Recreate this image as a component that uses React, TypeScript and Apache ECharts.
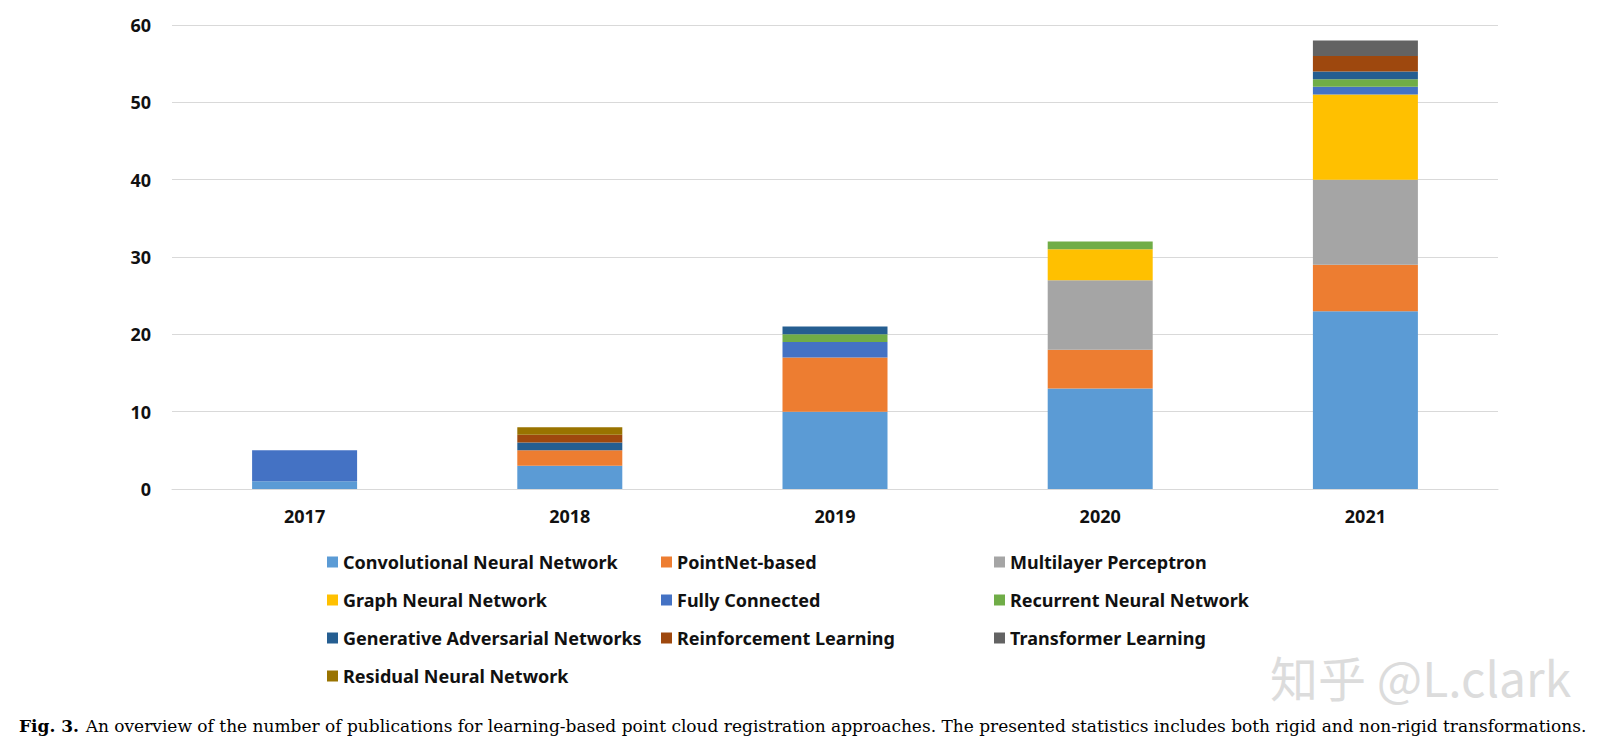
import React, { useEffect, useRef } from "react";
import * as echarts from "echarts";

const years = ["2017", "2018", "2019", "2020", "2021"];
const seriesNames = [
  "Convolutional Neural Network",
  "PointNet-based",
  "Multilayer Perceptron",
  "Graph Neural Network",
  "Fully Connected",
  "Recurrent Neural Network",
  "Generative Adversarial Networks",
  "Reinforcement Learning",
  "Transformer Learning",
  "Residual Neural Network",
];
const cnn = [1, 3, 10, 13, 23];
const pointnet = [0, 2, 7, 5, 6];
const mlp = [0, 0, 0, 9, 11];
const gnn = [0, 0, 0, 4, 11];
const fc = [4, 0, 2, 0, 1];
const rnn = [0, 0, 1, 1, 1];
const gan = [0, 1, 1, 0, 1];
const rl = [0, 1, 0, 0, 2];
const transformer = [0, 0, 0, 0, 2];
const residual = [0, 1, 0, 0, 0];
const seriesValues = [cnn, pointnet, mlp, gnn, fc, rnn, gan, rl, transformer, residual];
const colors = [
  "#5B9BD5",
  "#ED7D31",
  "#A5A5A5",
  "#FFC000",
  "#4472C4",
  "#70AD47",
  "#255E91",
  "#9E480E",
  "#636363",
  "#997300",
];
const legendCol1 = [seriesNames[0], seriesNames[3], seriesNames[6], seriesNames[9]];
const legendCol2 = [seriesNames[1], seriesNames[4], seriesNames[7]];
const legendCol3 = [seriesNames[2], seriesNames[5], seriesNames[8]];
const captionBold = "Fig. 3.";
const captionText =
  "An overview of the number of publications for learning-based point cloud registration approaches. The presented statistics includes both rigid and non-rigid transformations.";
const watermark = "知乎 @L.clark";

export default function App() {
  const ref = useRef<HTMLDivElement>(null);
  useEffect(() => {
    document.body.style.margin = "0";
    if (!ref.current) return;
    const chart = echarts.init(ref.current, null, { renderer: "svg" });
    const font = "'Noto Sans', 'Open Sans', sans-serif";
    const legendBase = {
      orient: "vertical",
      top: 548,
      itemWidth: 11,
      itemHeight: 11,
      itemGap: 20,
      icon: "rect",
      textStyle: { fontFamily: font, fontWeight: "bold", fontSize: 18, color: "#111" },
      selectedMode: false,
    };
    chart.setOption({
      animation: false,
      backgroundColor: "#ffffff",
      color: colors,
      grid: { left: 172, right: 121, top: 25, bottom: 258, containLabel: false },
      xAxis: {
        type: "category",
        data: years,
        axisLine: { show: true, lineStyle: { color: "#d9d9d9", width: 1 } },
        axisTick: { show: false },
        axisLabel: {
          margin: 18,
          fontFamily: font,
          fontWeight: "bold",
          fontSize: 18,
          color: "#111",
        },
      },
      yAxis: {
        type: "value",
        min: 0,
        max: 60,
        interval: 10,
        axisLine: { show: false },
        axisTick: { show: false },
        splitLine: { lineStyle: { color: "#d9d9d9", width: 1 } },
        axisLabel: {
          margin: 21,
          fontFamily: font,
          fontWeight: "bold",
          fontSize: 18,
          color: "#111",
        },
      },
      legend: [
        { ...legendBase, left: 322, data: legendCol1 },
        { ...legendBase, left: 656, data: legendCol2 },
        { ...legendBase, left: 989, data: legendCol3 },
      ],
      series: seriesNames.map((name, i) => ({
        name,
        type: "bar",
        stack: "total",
        barWidth: 105,
        data: seriesValues[i],
        itemStyle: { color: colors[i] },
      })),
      graphic: [
        {
          type: "text",
          left: 1270,
          top: 652,
          style: {
            text: watermark,
            font: "48px 'Noto Sans CJK SC', sans-serif",
            fill: "#dcdcdc",
          },
          z: 10,
        },
        {
          type: "text",
          left: 19,
          top: 717,
          style: {
            text: `{b|${captionBold}}  {n|${captionText}}`,
            rich: {
              b: { fontFamily: "'DejaVu Serif', serif", fontWeight: "bold", fontSize: 17, fill: "#000" },
              n: { fontFamily: "'DejaVu Serif', serif", fontSize: 17, fill: "#000" },
            },
          },
        },
      ],
    });
    return () => chart.dispose();
  }, []);
  return <div ref={ref} style={{ width: 1619, height: 747 }} />;
}
